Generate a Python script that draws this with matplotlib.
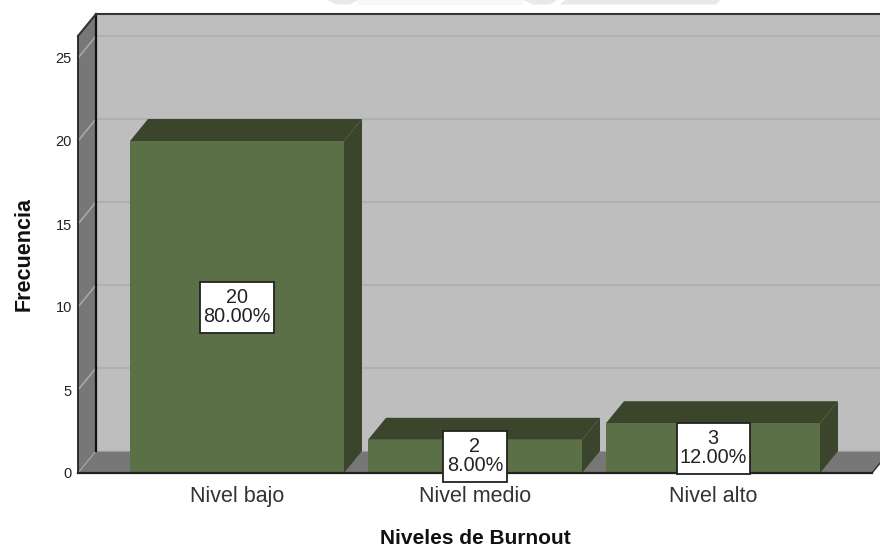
import matplotlib
matplotlib.use("Agg")
import matplotlib.pyplot as plt
from matplotlib.patches import Polygon, Rectangle

plt.rcParams['font.family'] = ['Liberation Sans', 'DejaVu Sans']

# Data
categories = ['Nivel bajo', 'Nivel medio', 'Nivel alto']
counts = [20, 2, 3]
percents = ['80.00%', '8.00%', '12.00%']
y_ticks = [0, 5, 10, 15, 20, 25]

# pixel scale of the reference
X_PX = 238.0
Y_PX = 16.6
DX = 18 / X_PX    # depth of the fake 3d
DY = 22 / Y_PX
BAR_W = 214 / X_PX

fig = plt.figure(figsize=(8.8, 5.48), dpi=100)
ax = fig.add_axes([0, 0, 1, 1])
ax.set_xlim(-237 / X_PX, (880 - 237) / X_PX)
ax.set_ylim(-(548 - 473) / Y_PX, 473 / Y_PX)
ax.axis('off')

LEFT = -159 / X_PX    # front left corner
RIGHT = 635 / X_PX    # front right corner
TOP = 437 / Y_PX      # front top of the walls

GREEN = '#5c7048'
DARK = '#3a452c'
WALL = '#bebebe'
SIDE = '#777777'


def poly(pts, color, z, edge='none', lw=0):
    ax.add_patch(Polygon(pts, closed=True, facecolor=color, edgecolor=edge,
                         linewidth=lw, zorder=z))


def px(x, y):
    # reference pixel to data position
    return ((x - 237) / X_PX, (473 - y) / Y_PX)


# faint scraps of a watermark above the frame
for a, b, c, d in [(327, 358, 337, 350), (523, 557, 533, 550), (565, 720, 560, 716)]:
    poly([px(a, 0), px(b, 0), px(d, 4.5), px(c, 4.5)], '#e8eae5', 0)
poly([px(358, 0), px(523, 0), px(523, 4.5), px(358, 4.5)], '#f8f9f7', 0)

# back wall, left wall, floor
poly([(LEFT + DX, DY), (RIGHT + 2 * DX, DY), (RIGHT + 2 * DX, TOP + DY), (LEFT + DX, TOP + DY)], WALL, 1)
poly([(LEFT, 0), (LEFT + DX, DY), (LEFT + DX, TOP + DY), (LEFT, TOP)], SIDE, 2)
poly([(LEFT, 0), (LEFT + DX, DY), (RIGHT + DX, DY), (RIGHT, 0)], SIDE, 2)

# grid lines on the walls
for t in y_ticks[1:]:
    ax.plot([LEFT + DX, RIGHT + 2 * DX], [t + DY, t + DY], color='#b0b0b0', lw=1.5, zorder=3)
    ax.plot([LEFT, LEFT + DX], [t, t + DY], color='#a8a8a8', lw=1.2, zorder=3)
for t in y_ticks:
    ax.text(LEFT - 6 / X_PX, t - 1.5 / Y_PX, str(t), ha='right', va='center', fontsize=10.5, color='#222222')
ax.plot([LEFT, LEFT + DX], [0, DY], color='#a8a8a8', lw=0.8, zorder=3)

# frame lines
ax.plot([LEFT + DX, LEFT + DX], [DY, TOP + DY], color='#111111', lw=1.6, zorder=4)
ax.plot([LEFT, LEFT], [0, TOP], color='#222222', lw=1.3, zorder=4)
ax.plot([LEFT, LEFT + DX, RIGHT + 2 * DX], [TOP, TOP + DY, TOP + DY], color='#333333', lw=1.5, zorder=4)
ax.plot([LEFT + DX, RIGHT + DX], [DY, DY], color='#999999', lw=0.8, zorder=3)
ax.plot([RIGHT, RIGHT + DX], [0, DY], color='#333333', lw=1.0, zorder=3)

# bars
for i, v in enumerate(counts):
    x0 = i - BAR_W / 2
    x1 = i + BAR_W / 2
    poly([(x1, 0), (x1 + DX, DY), (x1 + DX, v + DY), (x1, v)], DARK, 5)
    poly([(x0, v), (x0 + DX, v + DY), (x1 + DX, v + DY), (x1, v)], DARK, 5)
    ax.bar(i, v, width=BAR_W, color=GREEN, zorder=6)

ax.plot([LEFT, RIGHT], [0, 0], color='#222222', lw=1.6, zorder=7)

# value labels
box_w = [74 / X_PX, 64 / X_PX, 73 / X_PX]
box_h = 51 / Y_PX
for i, v in enumerate(counts):
    ax.add_patch(Rectangle((i - box_w[i] / 2, v / 2 - box_h / 2), box_w[i], box_h,
                           facecolor='white', edgecolor='#222222', linewidth=1.3, zorder=8))
    ax.text(i, v / 2, str(v) + '\n' + percents[i], ha='center', va='center',
            fontsize=14.3, color='#222222', linespacing=1.0, zorder=9)
    ax.text(i, -23.5 / Y_PX, categories[i], ha='center', va='center', fontsize=15.5, color='#333333')

ax.text((475 - 237) / X_PX, -66 / Y_PX, 'Niveles de Burnout', ha='center', va='center',
        fontsize=15, fontweight='bold', color='#111111')
ax.text(-213 / X_PX, (473 - 254) / Y_PX, 'Frecuencia', ha='center', va='center', rotation=90,
        fontsize=15.5, fontweight='bold', color='#111111')

fig.savefig('out.png', dpi=100)
